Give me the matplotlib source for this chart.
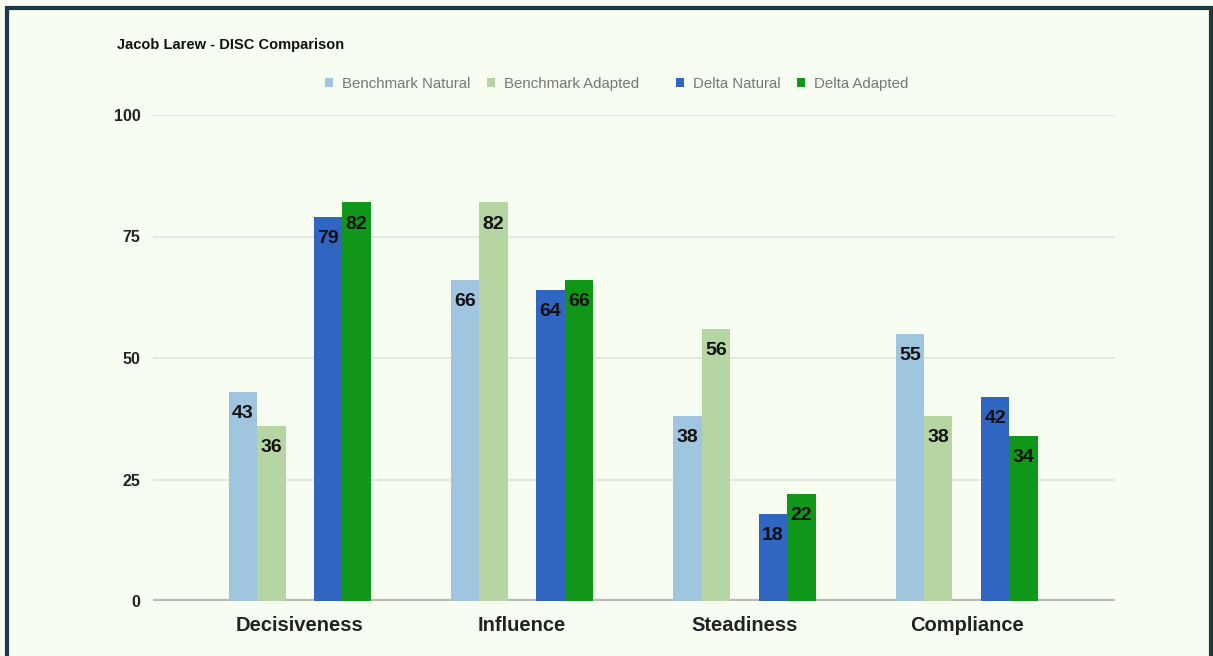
import matplotlib.pyplot as plt
import numpy as np
from matplotlib.patches import Rectangle, Patch

plt.rcParams['font.family'] = ['Liberation Sans', 'DejaVu Sans']

# data
categories = ["Decisiveness", "Influence", "Steadiness", "Compliance"]
series_names = ["Benchmark Natural", "Benchmark Adapted", "Delta Natural", "Delta Adapted"]
benchmark_natural = [43, 66, 38, 55]
benchmark_adapted = [36, 82, 56, 38]
delta_natural = [79, 64, 18, 42]
delta_adapted = [82, 66, 22, 34]
y_ticks = [0, 25, 50, 75, 100]

colors = ["#9fc5df", "#b5d6a2", "#3066c2", "#109618"]
bg = "#f8fdf1"

fig = plt.figure(figsize=(12.13, 6.56), dpi=100, facecolor=bg)
ax = fig.add_axes([153 / 1213, 1 - 601 / 656, (1115 - 153) / 1213, (601 - 115) / 656])
ax.set_facecolor(bg)

x = np.arange(len(categories))
w = 0.128
offsets = [-2 * w, -w, w, 2 * w]
all_series = [benchmark_natural, benchmark_adapted, delta_natural, delta_adapted]

for vals, off, col in zip(all_series, offsets, colors):
    bars = ax.bar(x + off, vals, width=w, color=col, zorder=3)
    for b, v in zip(bars, vals):
        ax.annotate(str(v), (b.get_x() + b.get_width() / 2, v), xytext=(0, -15.5),
                    textcoords="offset points", ha="center", va="center",
                    fontsize=14, fontweight="bold", color="#111111", zorder=4)

ax.set_xlim(-0.66, 3.667)
ax.set_ylim(0, 100)
ax.set_yticks(y_ticks)
ax.set_yticklabels([str(t) for t in y_ticks], fontsize=11.5, fontweight="bold", color="#222222")
ax.set_xticks(x)
ax.set_xticklabels(categories, fontsize=14.5, fontweight="bold", color="#222222")
ax.tick_params(axis="both", length=0)
ax.tick_params(axis="y", pad=9)
ax.tick_params(axis="x", pad=11)
for t in y_ticks[1:]:
    ax.axhline(t, color="#e0e4d9", lw=1.2, zorder=1)
ax.axhline(0, color="#b8bcb2", lw=3, zorder=2)
for s in ax.spines.values():
    s.set_visible(False)

fig.text(117 / 1213, 1 - 45 / 656, "Jacob Larew - DISC Comparison", fontsize=10.5,
         fontweight="bold", color="#111111", va="center", ha="left")

handles = [Patch(facecolor=c, edgecolor="none") for c in colors]
leg1 = fig.legend(handles[:2], series_names[:2], loc="center", ncol=2,
                  bbox_to_anchor=(482 / 1213, 1 - 84 / 656), frameon=False,
                  fontsize=10.8, labelcolor="#777777", handlelength=0.55, handleheight=0.55,
                  handletextpad=0.6, columnspacing=1.1)
leg2 = fig.legend(handles[2:], series_names[2:], loc="center", ncol=2,
                  bbox_to_anchor=(792 / 1213, 1 - 84 / 656), frameon=False,
                  fontsize=10.8, labelcolor="#777777", handlelength=0.55, handleheight=0.55,
                  handletextpad=0.6, columnspacing=1.1)

# dark frame around the chart
fig.add_artist(Rectangle((7 / 1213, -0.05), (1211 - 7) / 1213, 1.05 - 8 / 656,
                         transform=fig.transFigure, fill=False,
                         edgecolor="#1c3a44", lw=3))

fig.savefig("out.png", dpi=100, facecolor=bg)
